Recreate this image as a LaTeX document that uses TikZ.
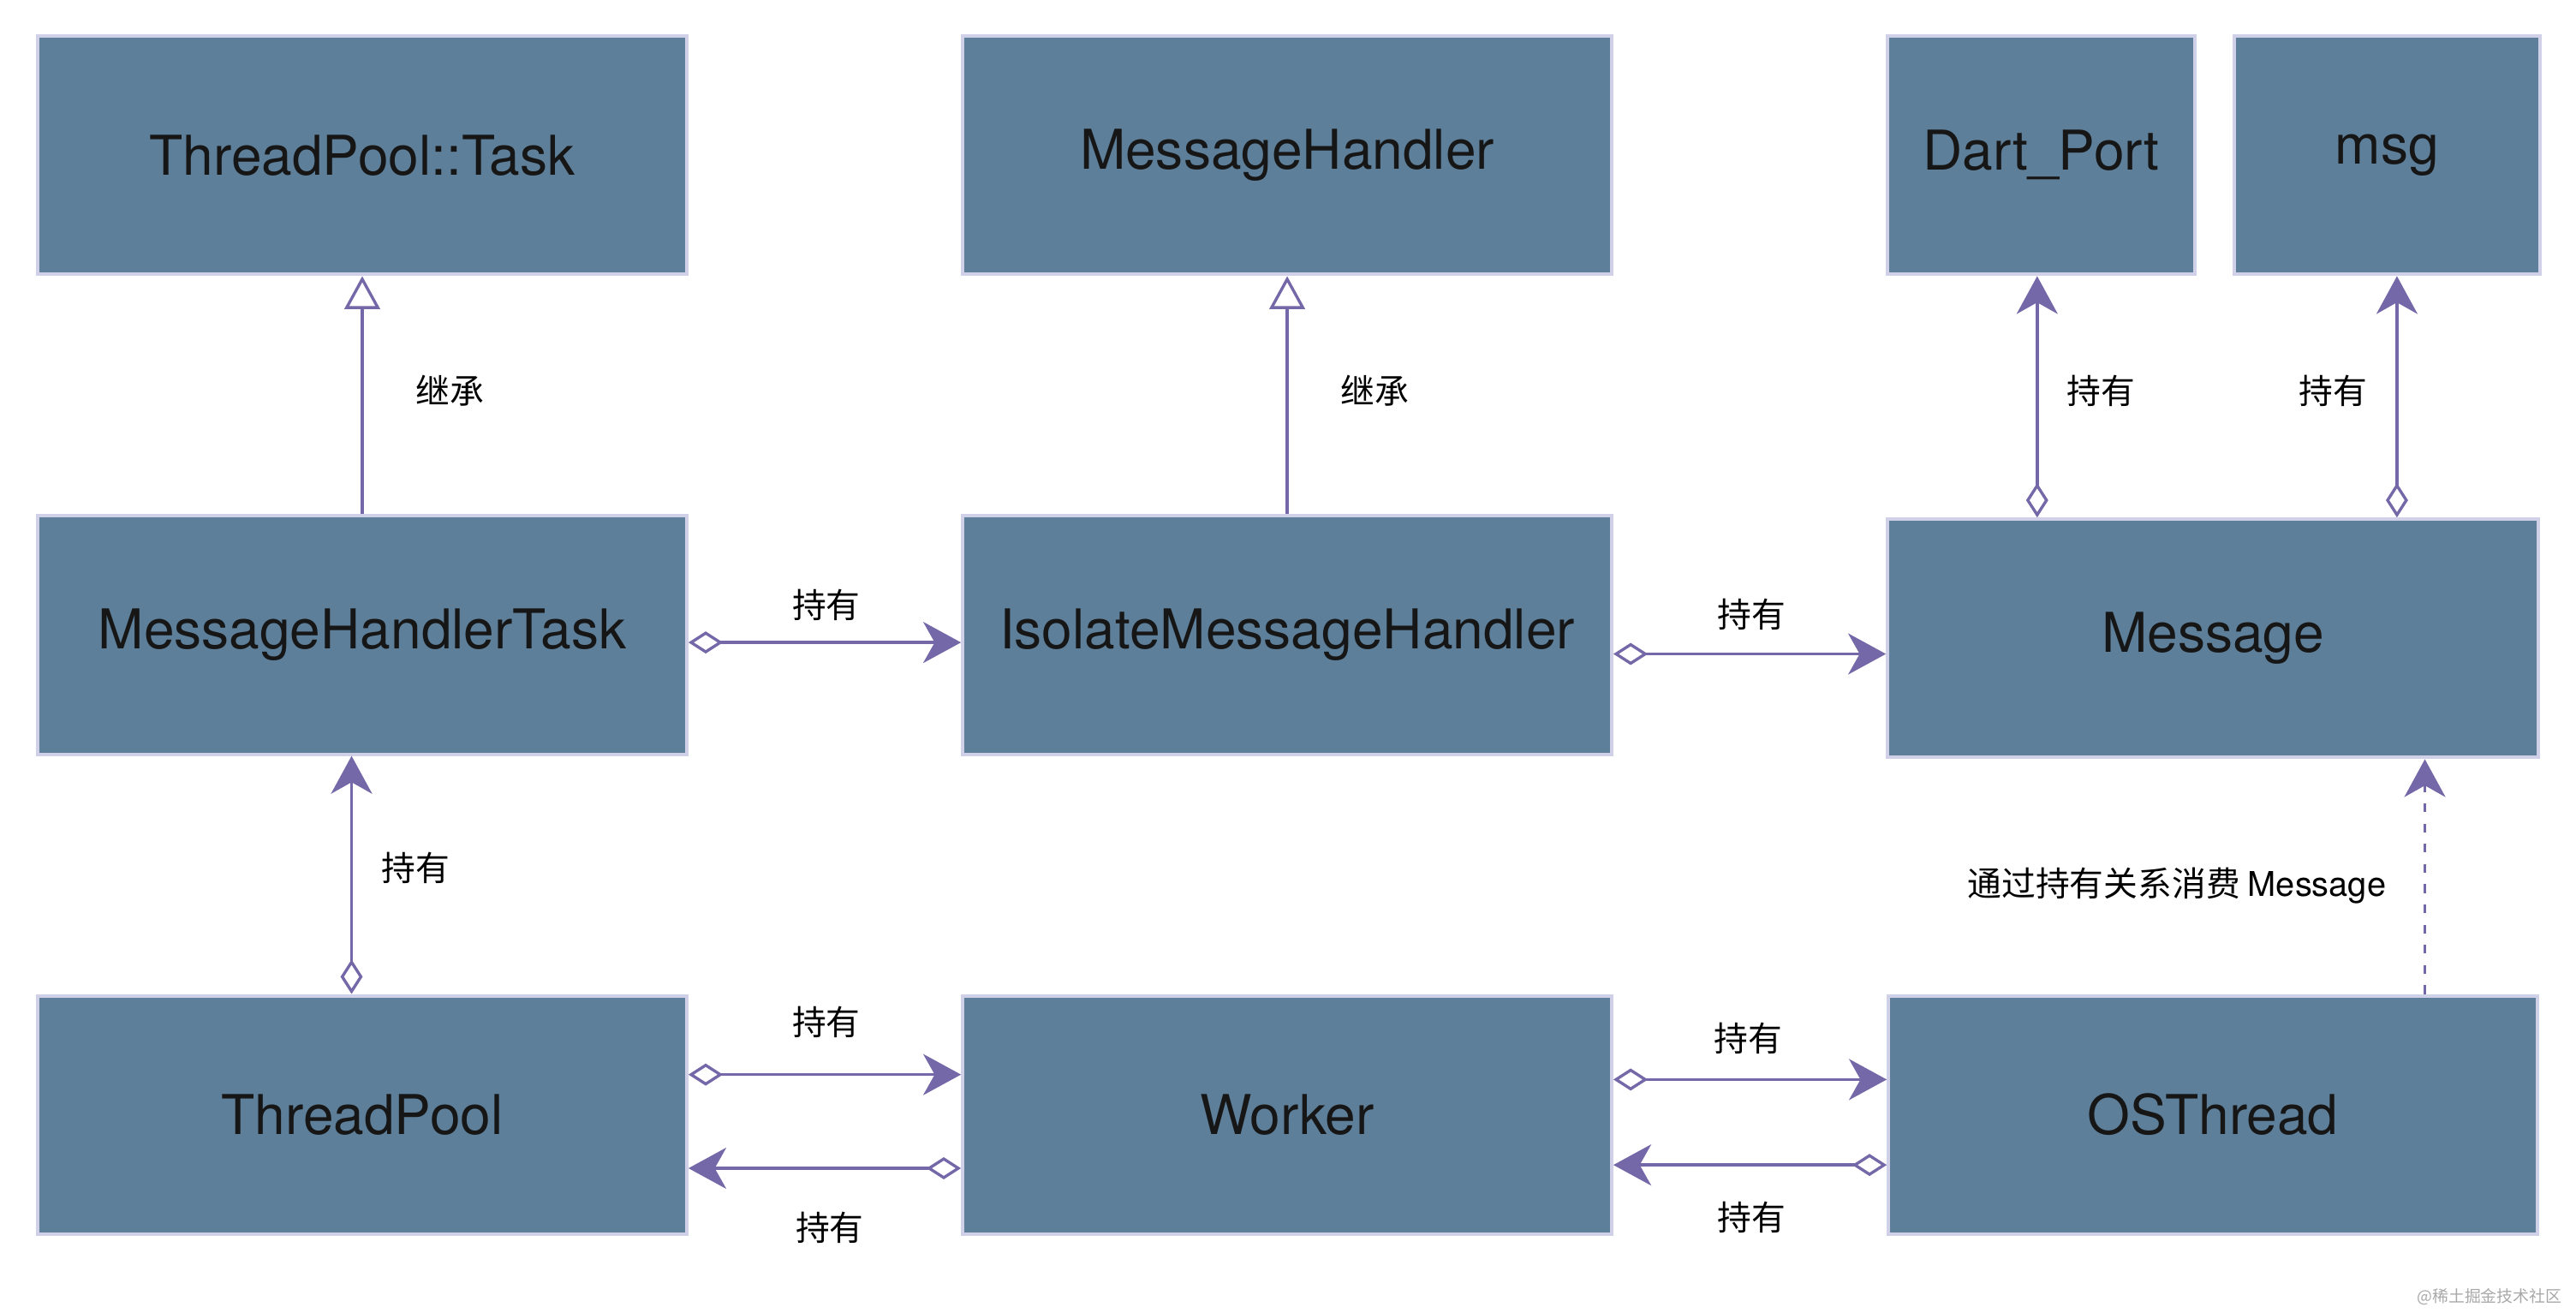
\documentclass[tikz,border=0pt]{standalone}
\usepackage{fontspec}
\setmainfont{TeX Gyre Heros}
\newfontfamily\cjkfont{Noto Sans CJK SC}
\usetikzlibrary{arrows.meta, positioning}
\definecolor{boxfill}{HTML}{5E7F99}
\definecolor{boxline}{HTML}{D0D0E8}
\definecolor{linkpurple}{HTML}{7568A8}
\definecolor{inktext}{HTML}{161616}
\definecolor{markgray}{HTML}{A8A8A8}

\begin{document}
\begin{tikzpicture}[line width=1pt,
  cls/.style={draw=boxline, line width=1.2pt, fill=boxfill, text=inktext,
    font=\fontsize{19}{22}\selectfont, minimum width=7.9cm, minimum height=2.9cm, inner sep=0pt},
  hold/.style={linkpurple, line width=1pt,
    {Diamond[fill=white, length=0.42cm, width=0.27cm]}-{Stealth[length=0.46cm, width=0.5cm, inset=0.14cm]}},
  inherit/.style={linkpurple, line width=1pt, -{Triangle[fill=white, length=0.4cm, width=0.43cm]}},
  uses/.style={linkpurple, line width=1pt, dash pattern=on 3pt off 4pt,
    -{Stealth[length=0.46cm, width=0.5cm, inset=0.14cm]}},
  lbl/.style={font=\cjkfont\fontsize{11.8}{14}\selectfont, text=black}]

% Canvas
\useasboundingbox (0,0) rectangle (31.36,-15.98);

% ========== Classes ==========
\node[cls] (task) at (4.41,-1.89) {ThreadPool::Task};
\node[cls] (handler) at (15.67,-1.89) {MessageHandler};
\node[cls, minimum width=3.74cm] (port) at (24.85,-1.89) {Dart\_Port};
\node[cls, minimum width=3.72cm] (msg) at (29.06,-1.89) {msg};

\node[cls] (handlertask) at (4.41,-7.73) {MessageHandlerTask};
\node[cls] (isolate) at (15.67,-7.73) {IsolateMessageHandler};
\node[cls, minimum width=7.92cm] (message) at (26.94,-7.77) {Message};

\node[cls] (pool) at (4.41,-13.57) {ThreadPool};
\node[cls] (worker) at (15.67,-13.57) {Worker};
\node[cls] (osthread) at (26.94,-13.57) {OSThread};

% ========== Inheritance ==========
\draw[inherit] (handlertask) -- (task);
\draw[inherit] (isolate) -- (handler);
\node[lbl] (inh1) at (5.48,-4.76) {继承};
\node[lbl] (inh2) at (16.74,-4.76) {继承};

% ========== Message holds ==========
\coordinate (portfoot) at ([xshift=-0.05cm]port.south);
\coordinate (msgfoot) at ([xshift=0.12cm]msg.south);
\draw[hold] (message.north -| portfoot) -- (portfoot);
\draw[hold] (message.north -| msgfoot) -- (msgfoot);
\node[lbl] (has1) at (25.58,-4.76) {持有};
\node[lbl] (has2) at (28.40,-4.76) {持有};

% ========== Middle row ==========
\draw[hold] ([yshift=-0.09cm]handlertask.east) -- ([yshift=-0.09cm]isolate.west);
\node[lbl] (has3) at (10.06,-7.36) {持有};
\coordinate (imhout) at ([yshift=-0.23cm]isolate.east);
\draw[hold] (imhout) -- (imhout -| message.west);
\node[lbl] (has4) at (21.32,-7.48) {持有};

% ========== ThreadPool -> MessageHandlerTask ==========
\draw[hold] ([xshift=-0.13cm]pool.north) -- ([xshift=-0.13cm]handlertask.south);
\node[lbl] (has5) at (5.06,-10.56) {持有};

% ========== Bottom row ==========
\draw[hold] ([yshift=0.49cm]pool.east) -- ([yshift=0.49cm]worker.west);
\draw[hold] ([yshift=-0.65cm]worker.west) -- ([yshift=-0.65cm]pool.east);
\node[lbl] (has6) at (10.06,-12.44) {持有};
\node[lbl] (has7) at (10.10,-14.94) {持有};

\draw[hold] ([yshift=0.43cm]worker.east) -- ([yshift=0.43cm]osthread.west);
\draw[hold] ([yshift=-0.61cm]osthread.west) -- ([yshift=-0.61cm]worker.east);
\node[lbl] (has8) at (21.28,-12.64) {持有};
\node[lbl] (has9) at (21.32,-14.82) {持有};

% ========== OSThread consumes Message ==========
\draw[uses] ([xshift=2.58cm]osthread.north) -- ([xshift=2.58cm]message.south);
\node[lbl] (consume) at (26.50,-10.78) {通过持有关系消费 {\rmfamily Message}};

% Watermark
\node[font=\cjkfont\fontsize{5.6}{6}\selectfont, text=markgray, anchor=east] (mark) at (31.32,-15.78) {@稀土掘金技术社区};

\end{tikzpicture}
\end{document}
